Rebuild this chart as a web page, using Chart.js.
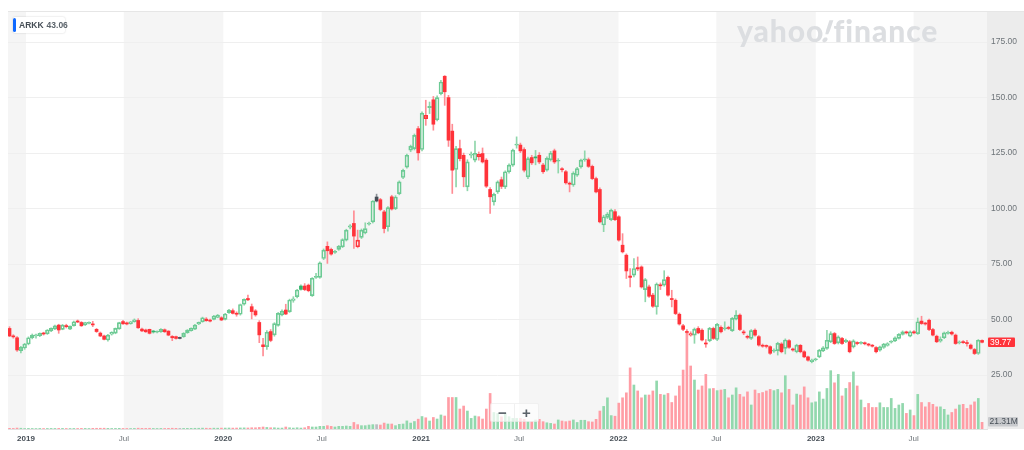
<!DOCTYPE html>
<html><head><meta charset="utf-8">
<script src="https://cdn.jsdelivr.net/npm/chart.js@4.4.0/dist/chart.umd.min.js"></script>
<style>
html,body{margin:0;padding:0;background:#fff;}
#wrap{position:relative;width:1024px;height:450px;overflow:hidden;}
#c{position:absolute;left:0;top:0;}
#wm{position:absolute;left:737px;top:12px;font-family:Lato,'Liberation Sans',sans-serif;font-weight:900;font-size:30px;line-height:36px;color:#dcdee1;letter-spacing:0.9px;pointer-events:none;white-space:nowrap;}
#wm i{display:inline-block;font-style:normal;transform:skewX(-18deg);}
#lg{position:absolute;left:13px;top:17px;height:16px;width:52px;background:#fff;box-shadow:0 0 2px rgba(0,0,0,0.2);border-radius:2px;font:bold 8.5px 'Liberation Sans',Arial,sans-serif;line-height:16px;color:#464e56;white-space:nowrap;}
#lg .bar{position:absolute;left:0;top:1px;width:3px;height:14px;background:#0f69ff;border-radius:2px;}
#lg .t{position:absolute;left:6px;top:0;}
#lg .v{color:#5b636a;margin-left:3px;}
#zm{position:absolute;left:490px;top:403px;width:47px;height:17px;background:rgba(255,255,255,0.72);border:1px solid rgba(0,0,0,0.05);border-radius:2px;display:flex;}
#zm div{width:23px;text-align:center;font:bold 15px/17px 'Liberation Sans',Arial,sans-serif;color:#5b636a;}
#zm .sep{width:1px;background:rgba(0,0,0,0.06);}
</style></head>
<body>
<div id="wrap">
<canvas id="c" width="1024" height="450"></canvas>
<div id="wm">yahoo<i>!</i>finance</div>
<div id="lg"><span class="bar"></span><span class="t">ARKK<span class="v">43.06</span></span></div>
<div id="zm"><div>−</div><div class="sep"></div><div>+</div></div>
</div>
<script>
const startWeek = '2018-11-26';
const tickDates = ['2019-01-01','2019-07-01','2020-01-01','2020-07-01','2021-01-01','2021-07-01','2022-01-01','2022-07-01','2023-01-01','2023-07-01'];
const tickLabels = ['2019','Jul','2020','Jul','2021','Jul','2022','Jul','2023','Jul'];
const yTicks = [25,50,75,100,125,150,175];

const open = [
46.0,42.6,41.8,36.0,37.2,39.0,41.8,42.6,42.7,43.9,
43.6,44.9,45.8,47.5,45.6,47.3,45.7,47.3,49.3,48.7,
47.6,48.3,48.0,45.6,43.9,42.6,40.8,43.4,43.9,45.8,
49.1,48.5,48.2,49.0,49.6,45.7,45.3,45.6,44.8,44.3,
44.5,45.4,44.8,42.4,42.3,41.8,42.3,44.1,45.0,45.7,
48.0,49.0,50.2,49.6,50.1,51.0,50.8,50.1,53.1,54.0,
52.6,52.4,56.9,59.5,55.8,53.9,48.7,38.6,37.8,44.6,
43.1,47.4,52.1,54.3,53.6,58.6,60.3,65.1,65.1,65.5,
60.8,69.0,69.0,77.5,83.0,81.6,80.3,81.6,82.8,85.8,
91.6,93.3,82.8,87.0,89.0,93.0,94.0,105.2,104.0,98.5,
91.8,105.3,100.0,106.7,114.0,118.7,126.3,127.0,136.0,126.6,
140.5,145.5,149.0,140.0,151.8,159.6,150.0,134.9,117.6,127.0,
124.0,109.8,124.0,121.8,123.3,124.8,121.8,108.6,103.0,107.5,
113.0,109.8,116.6,119.6,128.6,128.6,126.6,114.3,123.0,123.3,
124.0,119.6,117.3,122.0,126.0,121.3,117.9,116.6,111.3,110.6,
115.0,118.8,122.0,122.0,119.0,113.5,108.6,92.6,96.0,95.0,
98.6,96.3,83.5,79.0,69.6,70.0,73.4,73.7,63.5,64.7,
61.0,55.7,65.5,65.5,69.0,59.5,58.7,52.4,47.2,44.6,
43.0,43.0,46.0,45.2,39.3,40.5,46.0,41.0,46.5,45.8,
46.4,45.0,50.2,52.0,44.4,42.4,41.5,45.2,42.3,38.3,
38.1,37.8,35.8,36.0,39.0,37.0,40.5,36.6,35.5,38.4,
35.5,33.2,31.0,31.9,33.2,35.9,37.0,40.0,43.7,39.5,
41.5,40.0,40.0,37.7,39.5,39.3,39.4,38.8,38.3,37.4,
36.2,37.4,38.3,39.8,40.4,41.5,43.3,44.3,42.5,44.5,
43.7,49.3,48.3,49.7,45.5,42.5,40.3,41.8,43.8,44.3,
43.0,39.5,39.9,39.4,38.5,36.5,34.7,40.6];

const high = [
46.8,43.2,42.3,37.9,39.3,42.2,43.5,43.5,44.0,44.3,
45.5,46.3,47.5,47.9,47.8,47.9,47.2,49.3,49.8,49.1,
48.8,49.0,49.2,46.0,44.4,43.0,43.3,44.5,46.2,48.8,
49.7,48.9,49.2,50.3,50.4,46.2,45.7,45.7,45.1,44.9,
45.9,45.8,45.0,42.8,42.6,42.1,44.1,45.5,46.3,47.8,
48.9,51.1,50.9,50.2,51.9,52.3,51.3,52.8,54.6,54.8,
53.5,57.0,59.3,61.0,57.0,54.5,49.5,41.5,45.0,45.5,
48.6,53.2,54.4,56.9,59.2,60.3,63.6,65.6,66.2,66.0,
68.9,70.8,76.0,81.8,85.0,82.2,81.2,83.4,86.4,90.7,
92.8,99.0,90.3,90.8,93.6,93.9,103.6,106.5,104.6,99.2,
100.9,106.0,105.8,112.5,117.8,124.6,128.6,133.6,137.0,143.6,
148.8,148.0,150.5,150.8,157.8,159.9,151.0,138.0,128.0,130.8,
125.0,122.0,125.5,130.4,125.5,127.3,122.5,109.5,107.0,112.5,
114.2,117.0,120.2,126.8,132.3,129.5,127.4,123.2,124.0,126.2,
125.2,120.4,123.3,125.8,126.8,122.5,118.5,117.2,112.0,116.6,
118.6,122.3,126.0,122.8,119.6,114.2,109.3,97.0,98.2,99.8,
99.6,96.8,88.7,79.6,73.0,77.5,78.2,74.2,68.5,65.5,
61.8,66.5,66.5,72.0,69.6,63.2,59.3,53.0,47.8,45.5,
44.5,46.2,46.8,45.8,41.0,46.5,46.6,48.3,47.2,49.0,
47.0,51.0,54.0,52.6,45.2,43.0,45.5,45.8,42.8,39.0,
38.6,38.2,36.8,39.8,39.6,41.3,41.0,37.2,38.9,38.8,
36.0,33.6,32.2,32.6,36.6,37.8,45.2,44.5,44.2,42.7,
42.0,41.2,40.6,40.9,40.0,40.1,39.9,39.3,38.8,37.8,
38.1,39.3,39.6,40.5,42.2,43.7,44.9,44.8,44.9,45.0,
50.7,51.5,48.8,50.2,46.0,43.0,42.2,44.4,44.8,44.8,
43.5,40.4,40.5,40.7,39.0,37.0,41.0,40.9];

const low = [
42.3,41.6,35.6,35.0,36.6,38.6,41.3,41.6,42.3,43.0,
43.3,44.6,45.5,43.8,45.4,46.2,45.4,47.0,48.6,46.9,
47.3,48.0,46.8,44.2,42.3,40.8,40.3,43.0,43.6,45.6,
47.8,47.6,47.9,48.8,46.0,44.6,44.2,43.5,43.9,44.0,
44.2,44.2,42.7,40.5,41.2,41.3,42.0,43.8,44.8,45.5,
47.7,48.8,49.2,48.9,49.8,50.8,49.5,49.8,52.8,52.5,
51.5,52.0,56.5,58.5,50.3,51.5,39.6,33.6,36.5,40.0,
42.5,47.0,51.6,52.2,53.2,57.8,59.8,63.2,63.0,62.5,
60.4,68.5,68.6,77.0,75.3,79.0,79.8,81.2,82.4,85.4,
90.8,82.0,82.3,86.5,88.6,92.5,93.5,103.0,99.0,89.0,
89.8,99.3,99.5,106.2,113.5,118.2,125.6,126.4,121.8,126.0,
137.5,142.8,135.3,139.5,151.2,146.5,128.0,106.8,109.8,121.5,
109.8,108.0,122.8,121.0,121.8,120.5,109.5,97.8,101.5,106.8,
109.0,109.0,116.0,119.0,127.2,125.2,116.5,113.5,119.8,119.7,
120.2,115.8,116.8,121.4,120.3,116.0,116.5,111.0,107.5,110.0,
114.5,118.2,121.3,118.5,113.0,107.0,93.5,89.6,95.5,94.5,
94.5,85.3,80.0,68.5,64.7,69.2,72.0,64.2,58.0,60.0,
55.5,52.4,63.5,65.0,60.5,55.7,52.2,47.5,45.0,43.5,
42.5,39.3,43.6,40.4,37.5,40.0,41.0,40.5,44.0,45.2,
45.5,44.6,49.8,45.0,43.2,41.3,41.0,42.5,38.0,37.5,
37.2,34.3,35.2,34.0,35.0,34.5,37.0,35.8,35.0,35.0,
32.8,31.2,30.5,31.4,32.8,35.5,36.6,39.6,38.8,39.0,
38.8,39.6,35.0,37.2,38.6,38.9,38.6,38.0,37.6,35.0,
35.8,37.0,38.0,39.4,40.0,41.2,43.0,43.5,42.2,43.5,
43.3,47.8,47.5,45.0,42.6,39.6,39.8,41.4,43.4,43.0,
38.8,39.0,39.2,38.0,36.6,34.2,34.3,39.5];

const close = [
42.6,42.2,36.3,37.5,39.0,41.8,43.0,43.1,43.8,43.5,
45.3,46.0,47.2,45.3,47.5,46.8,46.9,49.0,48.9,47.2,
48.6,48.7,47.6,44.6,42.6,41.1,43.0,44.2,46.0,48.6,
48.1,48.0,49.0,49.9,46.3,44.9,44.5,43.8,44.4,44.6,
45.6,44.5,43.0,41.8,41.5,41.5,43.8,45.3,46.0,47.5,
48.7,50.8,49.5,49.3,51.6,52.0,49.8,52.5,54.3,52.8,
52.4,56.8,59.1,58.9,53.6,52.1,43.1,37.8,44.3,40.6,
48.2,52.8,53.8,52.5,58.8,59.3,63.3,63.6,63.5,63.0,
68.6,69.4,75.6,81.3,81.0,79.5,80.6,83.0,86.0,90.3,
92.2,87.6,85.8,90.3,91.0,93.4,103.4,103.4,99.6,91.0,
100.4,99.8,105.2,112.0,117.2,124.0,128.0,133.0,125.1,143.0,
142.0,146.0,138.0,150.0,157.0,152.6,130.8,117.3,127.0,122.5,
114.3,121.0,124.6,124.9,124.4,121.0,110.1,105.3,106.4,112.0,
110.0,116.6,119.6,126.3,129.1,126.0,117.3,122.5,120.6,122.8,
121.0,116.6,122.6,125.0,121.0,121.6,117.5,111.6,111.0,116.0,
118.0,121.8,122.4,119.0,113.5,107.5,94.0,96.3,97.5,99.3,
95.0,85.8,80.5,71.9,69.0,73.0,72.8,64.7,68.0,60.5,
56.0,66.0,65.2,68.0,61.0,59.0,52.7,48.0,45.6,44.2,
43.7,45.7,44.0,40.8,39.0,46.0,41.5,47.8,44.5,46.1,
46.0,50.5,52.0,45.5,44.0,42.0,45.0,43.0,38.5,38.0,
37.9,34.8,36.1,39.3,35.5,40.8,37.5,36.3,38.5,35.5,
33.2,31.7,31.8,32.2,36.2,37.3,40.7,43.7,39.2,42.2,
39.2,40.7,35.5,40.4,39.2,39.6,39.1,38.5,38.0,35.5,
37.7,38.9,39.2,40.1,41.8,43.3,44.5,44.0,44.5,44.0,
49.0,48.2,48.0,45.5,43.0,40.0,41.2,44.0,44.3,43.5,
39.2,39.8,39.6,39.2,37.0,34.7,40.7,39.77];

// weekly volume, millions
const volume = [
2.1,1.8,3.0,2.5,1.6,1.9,1.7,1.5,1.8,1.6,
1.7,1.9,1.8,2.0,1.9,1.7,1.6,1.8,1.7,2.0,
1.9,1.6,2.1,2.3,2.4,2.5,2.0,1.8,1.9,2.1,
1.8,1.7,1.6,1.9,2.6,2.2,2.0,2.3,1.8,1.7,
1.9,1.8,2.2,2.4,2.1,1.9,2.0,2.2,2.1,2.3,
2.4,2.8,2.5,2.3,2.7,2.6,2.9,3.0,3.2,2.9,
3.1,3.4,3.6,3.3,4.0,4.0,5.0,6.4,5.0,4.0,
4.0,3.0,3.0,6.4,4.0,3.0,4.0,3.0,4.0,8.5,
6.4,6.4,8.5,8.5,10.7,8.5,6.4,8.5,8.5,9.6,
8.5,21.0,14.0,10.7,10.7,12.8,14.0,14.0,12.8,19.0,
16.0,16.0,10.7,15.0,16.0,26.0,19.0,24.0,31.5,40.0,
36.0,25.6,37.0,32.0,45.0,41.6,101,101,101,64.0,
73.6,57.6,34.0,41.6,39.5,32.0,64.0,114,53.0,50.0,
39.0,50.0,39.5,34.0,34.0,34.0,31.0,23.5,23.5,29.0,
31.0,23.5,20.0,18.0,16.0,29.0,25.6,23.5,25.6,29.0,
21.0,28.0,28.0,23.5,22.5,31.0,57.6,72.5,100,43.0,
41.0,83.0,100,116,196,141,122,100,109,109,
122,154,111,109,114,85,106,138,189,310,
202,157,125,138,175,129,130,123,125,127,
100,109,132,111,103,119,77,125,114,117,
122,127,123,127,116,171,127,77,112,109,
135,100,84,87,119,96,130,187,148,175,
106,130,149,183,138,93,69,82,69,69,
84,69,69,98,66,77,82,50,61,43,
111,85,71,85,79,71,71,63,45,53,
64,77,79,66,77,87,98,21.31];

const FONT = "'Liberation Sans', Arial, sans-serif";
Chart.defaults.font.family = FONT;
const N = close.length;
const WEEK = 7 * 864e5;
const t0 = Date.parse(startWeek);
const tickIdx = tickDates.map(d => (Date.parse(d) - t0) / WEEK - 0.8);

const COL = {
  up: '#6cca94', upFill: '#34b36c', dn: '#ff333a', eq: '#464e56',
  wUp: '#8fd6ab', wDn: '#ff8c94', wEq: '#8c9298',
  vUp: '#92d8ad', vDn: '#ff9da5', vEq: '#b9bdc1'
};
function dirOf(i) {
  if (i === 0) return close[0] >= open[0] ? 1 : -1;
  const d = close[i] - close[i - 1];
  return d > 0 ? 1 : d < 0 ? -1 : 0;
}
const hollow = i => close[i] > open[i];
const pick = (d, a, b, c) => d > 0 ? a : d < 0 ? b : c;

const idx = close.map((_, i) => i);
const hollowData = idx.map(i => hollow(i) ? { x: i, y: [open[i], close[i]] } : { x: i, y: null });
const filledData = idx.map(i => hollow(i) ? { x: i, y: null } : { x: i, y: [open[i], close[i]] });
const upperWick = idx.map(i => ({ x: i, y: [Math.max(open[i], close[i]), high[i]] }));
const lowerWick = idx.map(i => ({ x: i, y: [low[i], Math.min(open[i], close[i])] }));
const volData = idx.map(i => ({ x: i, y: volume[i] }));

const dcol = (a, b, c) => ctx => ctx.dataIndex == null ? b : pick(dirOf(ctx.dataIndex), a, b, c);

const bgPlugin = {
  id: 'bg',
  beforeDraw(chart) {
    const { ctx, chartArea: a, scales: { x } } = chart;
    ctx.save();
    ctx.fillStyle = '#fff';
    ctx.fillRect(0, 0, chart.width, chart.height);
    const edges = [x.min, ...tickIdx, x.max];
    ctx.fillStyle = '#f5f5f5';
    for (let k = 0; k < edges.length - 1; k += 2) {
      const x1 = x.getPixelForValue(edges[k]), x2 = x.getPixelForValue(edges[k + 1]);
      ctx.fillRect(x1, a.top, x2 - x1, a.bottom - a.top);
    }
    ctx.fillStyle = '#ececec';
    ctx.fillRect(a.right, a.top, chart.width - a.right, a.bottom - a.top);
    ctx.strokeStyle = '#e6e6e6';
    ctx.lineWidth = 1;
    ctx.beginPath();
    ctx.moveTo(a.left, a.top + 0.5);
    ctx.lineTo(chart.width, a.top + 0.5);
    ctx.stroke();
    ctx.restore();
  }
};
const tagPlugin = {
  id: 'tags',
  afterDraw(chart) {
    const { ctx, chartArea: a, scales: { y, yv } } = chart;
    ctx.save();
    const lc = close[N - 1];
    const py = Math.round(y.getPixelForValue(lc));
    ctx.fillStyle = '#ff333a';
    ctx.beginPath(); ctx.roundRect(a.right + 1, py - 4.5, 27, 9.5, 1); ctx.fill();
    ctx.fillStyle = '#fff';
    ctx.font = '8.5px ' + FONT;
    ctx.textBaseline = 'middle'; ctx.textAlign = 'left';
    ctx.fillText(lc.toFixed(2), a.right + 3, py + 0.5);
    const lv = volume[N - 1];
    const pv = Math.round(yv.getPixelForValue(lv));
    ctx.fillStyle = '#c8cacd';
    ctx.beginPath(); ctx.roundRect(a.right + 1, pv - 5, 30, 9.5, 1); ctx.fill();
    ctx.fillStyle = '#464e56';
    ctx.fillText(lv.toFixed(2) + 'M', a.right + 2.5, pv);
    ctx.restore();
  }
};

new Chart(document.getElementById('c'), {
  type: 'bar',
  data: {
    datasets: [
      {
        data: filledData, order: 0, grouped: false, barThickness: 3, minBarLength: 1,
        borderSkipped: false, borderWidth: 0,
        backgroundColor: dcol(COL.upFill, COL.dn, COL.eq)
      },
      {
        data: hollowData, order: 0, grouped: false, barThickness: 3.8, minBarLength: 1,
        borderSkipped: false, borderWidth: 1, backgroundColor: 'rgba(0,0,0,0)',
        borderColor: dcol(COL.up, COL.dn, COL.eq)
      },
      { data: upperWick, order: 1, grouped: false, barThickness: 1, borderWidth: 0, backgroundColor: dcol(COL.wUp, COL.wDn, COL.wEq) },
      { data: lowerWick, order: 1, grouped: false, barThickness: 1, borderWidth: 0, backgroundColor: dcol(COL.wUp, COL.wDn, COL.wEq) },
      {
        data: volData, yAxisID: 'yv', order: 2, grouped: false, barThickness: 2, borderWidth: 0,
        backgroundColor: dcol(COL.vUp, COL.vDn, COL.vEq)
      }
    ]
  },
  options: {
    responsive: false, animation: false, events: [],
    layout: { padding: { left: 8, top: 11, right: 0, bottom: 0 } },
    plugins: { legend: { display: false }, tooltip: { enabled: false } },
    scales: {
      x: {
        type: 'linear', min: -0.4, max: 258.3, offset: false,
        afterBuildTicks: s => { s.ticks = tickIdx.map(v => ({ value: v })); },
        afterFit: s => { s.height = 21; },
        grid: { display: false, drawTicks: false },
        border: { display: true, color: '#e2e2e2' },
        ticks: {
          autoSkip: false, maxRotation: 0, padding: 5,
          callback: (v, i) => tickLabels[i],
          font: ctx => ({ size: 8, family: FONT, weight: tickLabels[ctx.index] === 'Jul' ? 'normal' : 'bold' }),
          color: ctx => tickLabels[ctx.index] === 'Jul' ? '#6e7479' : '#464e56'
        }
      },
      y: {
        position: 'right', min: 0.7, max: 189,
        afterBuildTicks: s => { s.ticks = yTicks.map(v => ({ value: v })); },
        afterFit: s => { s.width = 37; },
        grid: { color: '#efefef', drawTicks: false },
        border: { display: false },
        ticks: { padding: 4, color: '#6e7479', font: { size: 8.5, family: FONT }, callback: v => Number(v).toFixed(2) }
      },
      yv: { display: false, min: 0, max: 1340, position: 'left' }
    }
  },
  plugins: [bgPlugin, tagPlugin]
});
</script>
</body></html>
